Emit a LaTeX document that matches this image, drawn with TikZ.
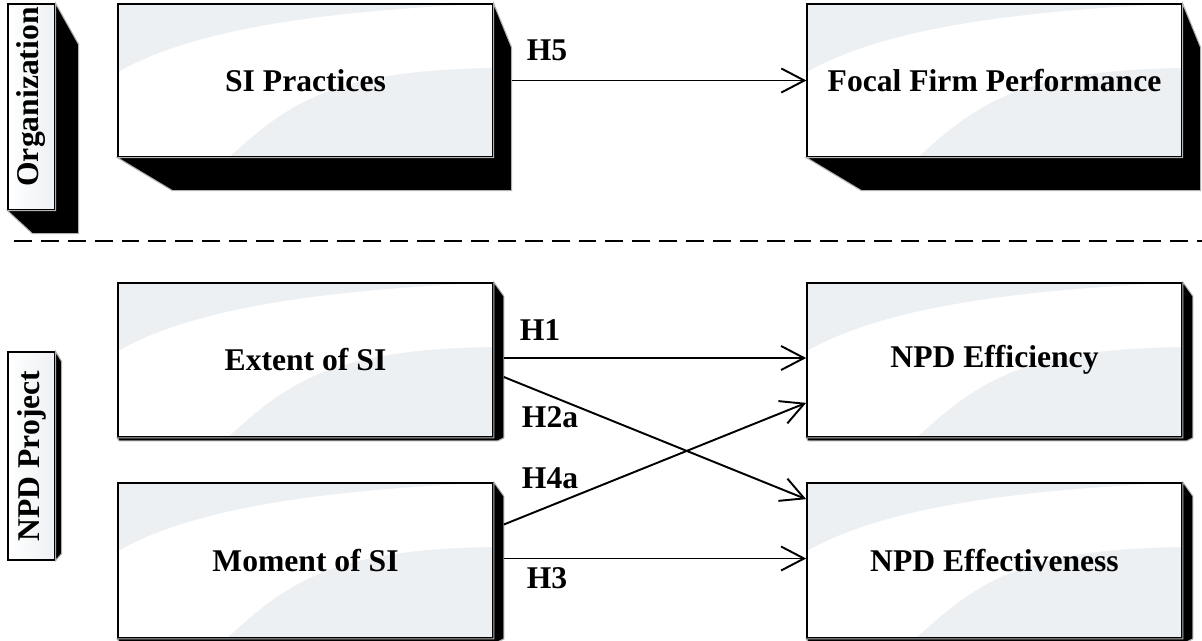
\documentclass[tikz,border=0pt]{standalone}
\usepackage{fontspec}
\setmainfont{Liberation Serif}
\usetikzlibrary{positioning,calc,arrows.meta}
\definecolor{swoo}{RGB}{237,240,243}

\begin{document}
\begin{tikzpicture}[x=0.02cm,y=-0.02cm,
    box/.style={draw=black, line width=0.7pt, fill=white, inner sep=0pt,
        font=\fontsize{18}{20}\selectfont\bfseries},
    swoosh/.style={path picture={
        \fill[swoo] (path picture bounding box.south west) rectangle (path picture bounding box.north east);
        \coordinate (pp) at (path picture bounding box.north west);
        \fill[white] ($(pp)+(0,68)$) .. controls +(80,-45) and +(-150,8) .. ($(pp)+(360,0)$)
            -- ($(pp)+(375,0)$) -- ($(pp)+(375,64)$)
            .. controls +(-160,2) and +(60,-55) .. ($(pp)+(110,154)$) -- ($(pp)+(0,154)$) -- cycle;
    }},
    bigbox/.style={box, minimum width=7.5cm, minimum height=3.08cm, swoosh},
    flatbox/.style={bigbox, line width=1pt},
    tallbox/.style={box, minimum width=0.94cm, left color=white, right color=swoo},
    side/.style={fill=black, draw=gray!60, line width=0.6pt},
    hyp/.style={-{Straight Barb[length=4.6mm,width=4.8mm]}, line width=1.1pt},
    hlab/.style={font=\fontsize{18}{20}\selectfont\bfseries, inner sep=0pt},
    divider/.style={line width=1.2pt, dash pattern=on 10.2pt off 5.1pt}]

    \useasboundingbox (0,0) rectangle (1202,640);

    % Organization level
    \node[tallbox, minimum height=4.12cm] (org) at (31.5,107) {\rotatebox{90}{\hspace{0.4cm}Organization}};
    \filldraw[side] (org.south west) -- (org.south east) -- (org.north east) -- ($(org.north east)+(23,41)$)
        -- ($(org.south east)+(23,23)$) -- ($(org.south west)+(25,23)$) -- cycle;

    \node[bigbox, minimum height=3.06cm] (sip) at (305.5,80.5) {SI Practices};
    \node[bigbox, minimum height=3.06cm] (ffp) at (994.5,80.5) {Focal Firm Performance};
    \foreach \n in {sip,ffp} {
        \filldraw[side] (\n.south west) -- (\n.south east) -- (\n.north east) -- ($(\n.north east)+(18,44)$)
            -- ($(\n.south east)+(18,33)$) -- ($(\n.south west)+(55,33)$) -- cycle;
    }

    \draw[hyp] ($(sip.east)+(18,0)$) -- (ffp.west);
    \node[hlab] (h5) at (547,50) {H5};

    % level divider
    \draw[divider] (14,241) -- (1202,241);

    % NPD project level
    \node[tallbox, minimum height=4.16cm] (npd) at (31.5,456) {\rotatebox{90}{NPD Project}};
    \filldraw[side] (npd.north east) -- ($(npd.north east)+(6,10)$) -- ($(npd.south east)+(6,-7)$)
        -- (npd.south east) -- cycle;

    \node[flatbox] (ext) at (305.5,360) {Extent of SI};
    \node[flatbox, minimum height=3.1cm] (mom) at (305.5,560.5) {Moment of SI};
    \node[flatbox] (eff) at (994.5,360) {NPD Efficiency};
    \node[flatbox, minimum height=3.1cm] (efv) at (994.5,560.5) {NPD Effectiveness};
    \foreach \n in {ext,mom,eff,efv} {
        \filldraw[side] (\n.north east) -- ($(\n.north east)+(10,14)$) -- ($(\n.south east)+(10,0)$)
            -- ($(\n.south east)+(4,3)$) -- ($(\n.south west)+(2,3)$) -- (\n.south west) -- (\n.south east) -- cycle;
    }

    % hypotheses
    \draw[hyp] ($(ext.east)+(10,-2)$) -- ($(eff.west)+(0,-2)$);
    \draw[hyp] ($(ext.east)+(10,17)$) -- ($(efv.north west)+(0,17)$);
    \draw[hyp] ($(mom.east)+(10,-36)$) -- ($(eff.south west)+(0,-35)$);
    \draw[hyp] ($(mom.east)+(10,-2)$) -- ($(efv.west)+(0,-2)$);

    \node[hlab] (h1) at (540,330) {H1};
    \node[hlab] (h2a) at (550,417) {H2a};
    \node[hlab] (h4a) at (550,478) {H4a};
    \node[hlab] (h3) at (547,578) {H3};
\end{tikzpicture}
\end{document}
